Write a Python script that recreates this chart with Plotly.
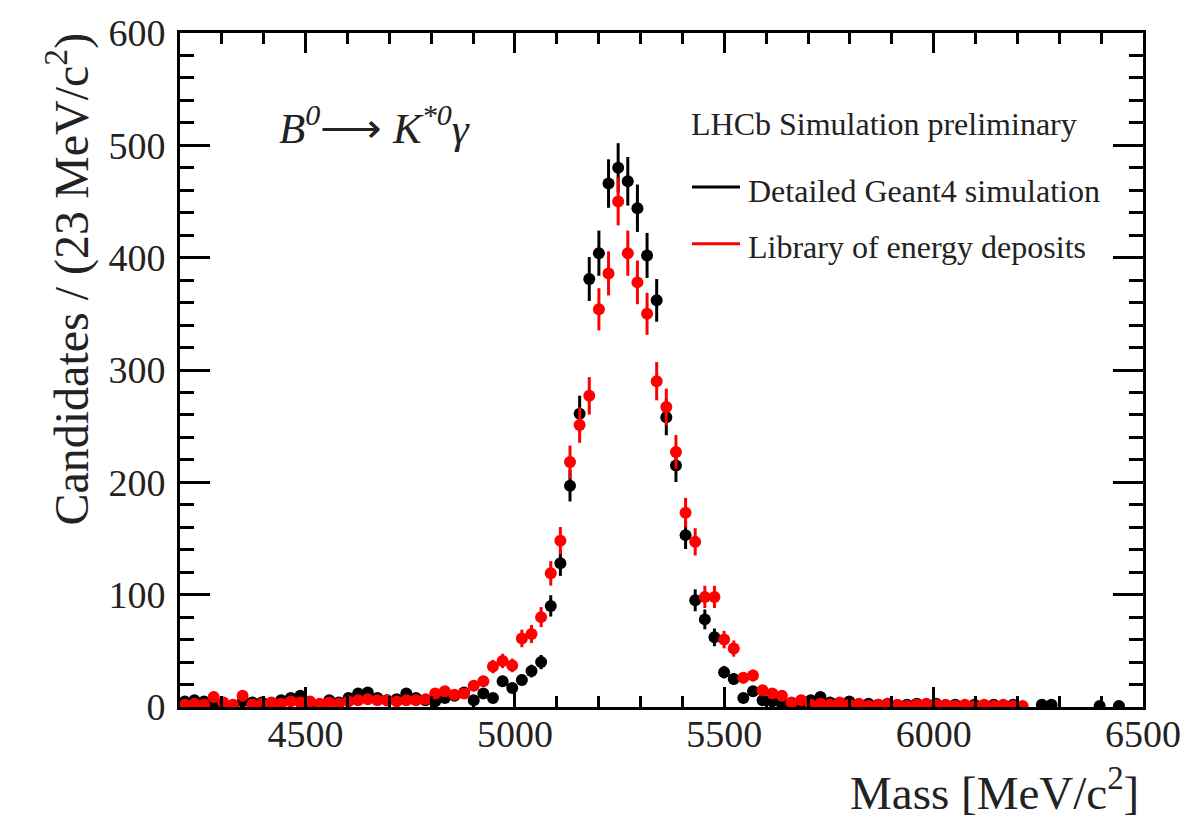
import numpy as np
import plotly.graph_objects as go

# Histogram binning: 100 bins of 23 MeV/c^2 from 4200 to 6500
MASS_LO = 4200.0
BIN_WIDTH = 23.0
N_BINS = 100

# Bin contents, detailed Geant4 simulation (0 = empty bin, not drawn)
geant4_counts = [
    5, 6, 5, 2, 3, 1, 5, 4, 4, 3,
    6, 8, 10, 4, 2, 6, 4, 8, 12, 13,
    8, 6, 7, 12, 8, 6, 5, 8, 10, 13,
    6, 12, 8, 23, 17, 24, 32, 40, 90, 128,
    197, 261, 381, 404, 466, 480, 468, 444, 402, 362,
    258, 215, 153, 95, 78, 62, 31, 25, 8, 14,
    6, 5, 3, 3, 4, 6, 9, 4, 3, 5,
    2, 3, 2, 3, 1, 2, 3, 2, 3, 1,
    2, 1, 2, 0, 2, 0, 2, 0, 0, 2,
    2, 0, 0, 0, 0, 1, 0, 1, 0, 0,
]

# Bin contents, library of energy deposits
library_counts = [
    2, 3, 2, 9, 4, 2, 10, 2, 3, 4,
    3, 5, 4, 5, 3, 4, 3, 5, 6, 7,
    6, 6, 5, 6, 6, 7, 12, 14, 11, 12,
    19, 23, 36, 41, 37, 61, 65, 80, 119, 148,
    218, 251, 277, 354, 386, 450, 404, 378, 350, 290,
    267, 227, 173, 147, 98, 98, 60, 52, 26, 28,
    15, 12, 10, 4, 6, 2, 3, 2, 4, 2,
    3, 1, 2, 3, 2, 1, 2, 3, 2, 2,
    1, 2, 1, 2, 1, 2, 1, 1, 0, 0,
    0, 0, 0, 0, 0, 0, 0, 0, 0, 0,
]

x_ticks = [4500, 5000, 5500, 6000, 6500]
y_ticks = [0, 100, 200, 300, 400, 500, 600]

centers = MASS_LO + BIN_WIDTH * (np.arange(N_BINS) + 0.5)

FONT = "Liberation Serif"
TEXT = "#222"


def points(counts):
    c = np.asarray(counts, dtype=float)
    mask = c > 0
    return centers[mask], c[mask], np.sqrt(c[mask])


fig = go.Figure()

for counts, colour, name in [
    (geant4_counts, "black", "Detailed Geant4 simulation"),
    (library_counts, "#ff0000", "Library of energy deposits"),
]:
    xs, ys, errs = points(counts)
    fig.add_trace(go.Scatter(
        x=xs, y=ys, mode="markers", name=name,
        marker=dict(color=colour, size=12, line=dict(width=0)),
        error_y=dict(type="data", array=errs, visible=True,
                     color=colour, thickness=3, width=0),
        showlegend=False,
    ))

# Frame geometry in pixels
L, R, T, B = 180, 1143, 29, 707
W, H = 1204, 821
PW, PH = R - L, B - T


def px(x):
    return (x - L) / PW


def py(y):
    return (B - y) / PH


axis_common = dict(
    showline=True, linecolor="black", linewidth=3, mirror="ticks",
    ticks="inside", tickcolor="black", tickwidth=3,
    showgrid=False, zeroline=False,
    tickfont=dict(family=FONT, size=38, color=TEXT),
)

fig.update_xaxes(
    range=[MASS_LO, MASS_LO + BIN_WIDTH * N_BINS],
    tickvals=x_ticks, ticklen=20,
    minor=dict(ticks="inside", dtick=100, ticklen=11, tickwidth=3, tickcolor="black"),
    ticklabelstandoff=-9,
    **axis_common,
)
fig.update_yaxes(
    range=[0, 600],
    tickvals=y_ticks, ticklen=30,
    minor=dict(ticks="inside", dtick=20, ticklen=14, tickwidth=3, tickcolor="black"),
    ticklabelstandoff=4,
    **axis_common,
)

annotations = [
    dict(text="Candidates / (23 MeV/c<sup>2</sup>)", x=px(68), y=py(277),
         textangle=-90, xanchor="center", yanchor="middle",
         font=dict(family=FONT, size=48, color=TEXT)),
    dict(text="Mass [MeV/c<sup>2</sup>]", x=px(1141), y=py(790),
         xanchor="right", yanchor="middle",
         font=dict(family=FONT, size=47, color=TEXT)),
    dict(text="<i>B<sup>0</sup></i>\u27f6 <i>K<sup>*0</sup>\u03b3</i>", x=px(277), y=py(122),
         xanchor="left", yanchor="middle",
         font=dict(family=FONT, size=43, color=TEXT)),
    dict(text="LHCb Simulation preliminary", x=px(689), y=py(121),
         xanchor="left", yanchor="middle",
         font=dict(family=FONT, size=32, color=TEXT)),
    dict(text="Detailed Geant4 simulation", x=px(746), y=py(188),
         xanchor="left", yanchor="middle",
         font=dict(family=FONT, size=32, color=TEXT)),
    dict(text="Library of energy deposits", x=px(746), y=py(244),
         xanchor="left", yanchor="middle",
         font=dict(family=FONT, size=32, color=TEXT)),
]
for a in annotations:
    a.update(xref="paper", yref="paper", showarrow=False)

# Legend line samples
shapes = [
    dict(type="line", xref="paper", yref="paper",
         x0=px(692), x1=px(740), y0=py(184), y1=py(184),
         line=dict(color="black", width=3)),
    dict(type="line", xref="paper", yref="paper",
         x0=px(692), x1=px(740), y0=py(241), y1=py(241),
         line=dict(color="#ff0000", width=3)),
]

fig.update_layout(
    width=W, height=H, autosize=False,
    margin=dict(l=L, r=W - R, t=T, b=H - B),
    paper_bgcolor="white", plot_bgcolor="white",
    annotations=annotations, shapes=shapes,
    showlegend=False,
)

fig.write_html("out.html")
